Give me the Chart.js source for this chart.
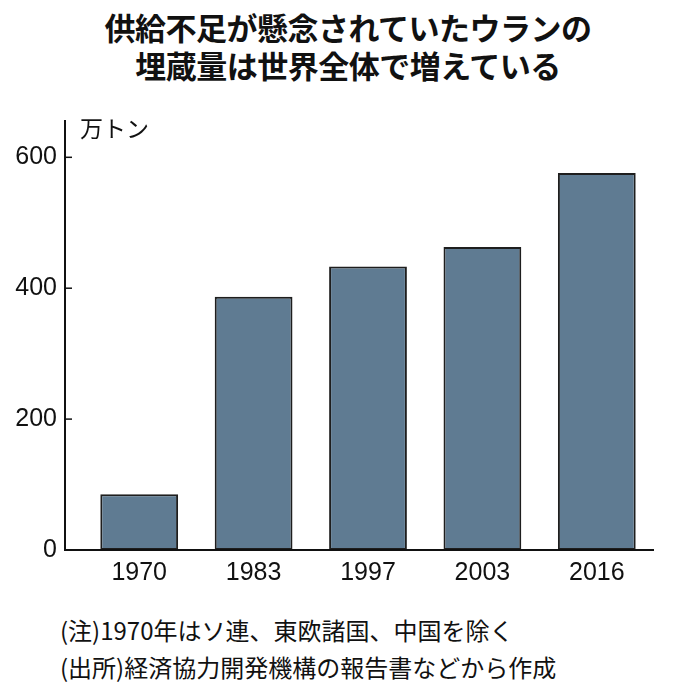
<!DOCTYPE html><html><head><meta charset="utf-8">
<script src="https://cdn.jsdelivr.net/npm/chart.js@4"></script>
<style>
body{margin:0;width:696px;height:696px;background:#fff;position:relative;overflow:hidden;font-family:"Noto Sans CJK JP";}
#t{position:absolute;top:8px;left:0;width:696px;text-align:center;font-weight:bold;font-size:31px;line-height:38px;color:#111;letter-spacing:-0.5px}
#u{position:absolute;left:80px;top:110px;font-size:23px;color:#111}
.n{position:absolute;left:60px;font-size:24px;color:#111}
#c{position:absolute;left:0;top:80px;width:696px;height:510px}
</style></head><body>
<div id="t">供給不足が懸念されていたウランの<br>埋蔵量は世界全体で増えている</div>
<div id="c"><canvas id="cv"></canvas></div>
<div id="u">万トン</div>
<div class="n" style="top:612px">(注)1970年はソ連、東欧諸国、中国を除く</div>
<div class="n" style="top:649px">(出所)経済協力開発機構の報告書などから作成</div>
<script>
const categories=["1970","1983","1997","2003","2016"];
const values=[85,387,433,463,576];
const yTicks=[0,200,400,600];
new Chart(document.getElementById('cv'),{type:'bar',
data:{labels:categories,datasets:[{data:values,backgroundColor:'#5f7b92',borderColor:'#1e1e1e',borderWidth:2,borderSkipped:false,categoryPercentage:0.68,barPercentage:1}]},
options:{responsive:true,maintainAspectRatio:false,animation:false,
layout:{padding:{top:10,right:42,left:0,bottom:0}},
plugins:{legend:{display:false},tooltip:{enabled:false}},
scales:{
x:{grid:{display:false,drawTicks:false},border:{display:false},
ticks:{color:'#111',font:{family:'Liberation Sans',size:25},padding:8},
afterFit:s=>{s.height=39}},
y:{min:0,max:657,grid:{display:false,drawTicks:false},border:{display:false},
afterBuildTicks:s=>{s.ticks=yTicks.map(v=>({value:v}))},
ticks:{color:'#111',font:{family:'Liberation Sans',size:25},padding:25},
afterFit:s=>{s.width=82}}}},
plugins:[{id:'tk',afterDraw(c){const g=c.ctx,y=c.scales.y,a=c.chartArea,x0=65;g.save();g.strokeStyle='#111';g.lineWidth=2;
g.beginPath();g.moveTo(x0,a.top);g.lineTo(x0,a.bottom);g.lineTo(a.right,a.bottom);g.stroke();g.lineWidth=1.5;
yTicks.forEach(v=>{const p=y.getPixelForValue(v);g.beginPath();g.moveTo(x0,p);g.lineTo(x0+7,p);g.stroke();});g.restore();}}]
});
</script></body></html>
